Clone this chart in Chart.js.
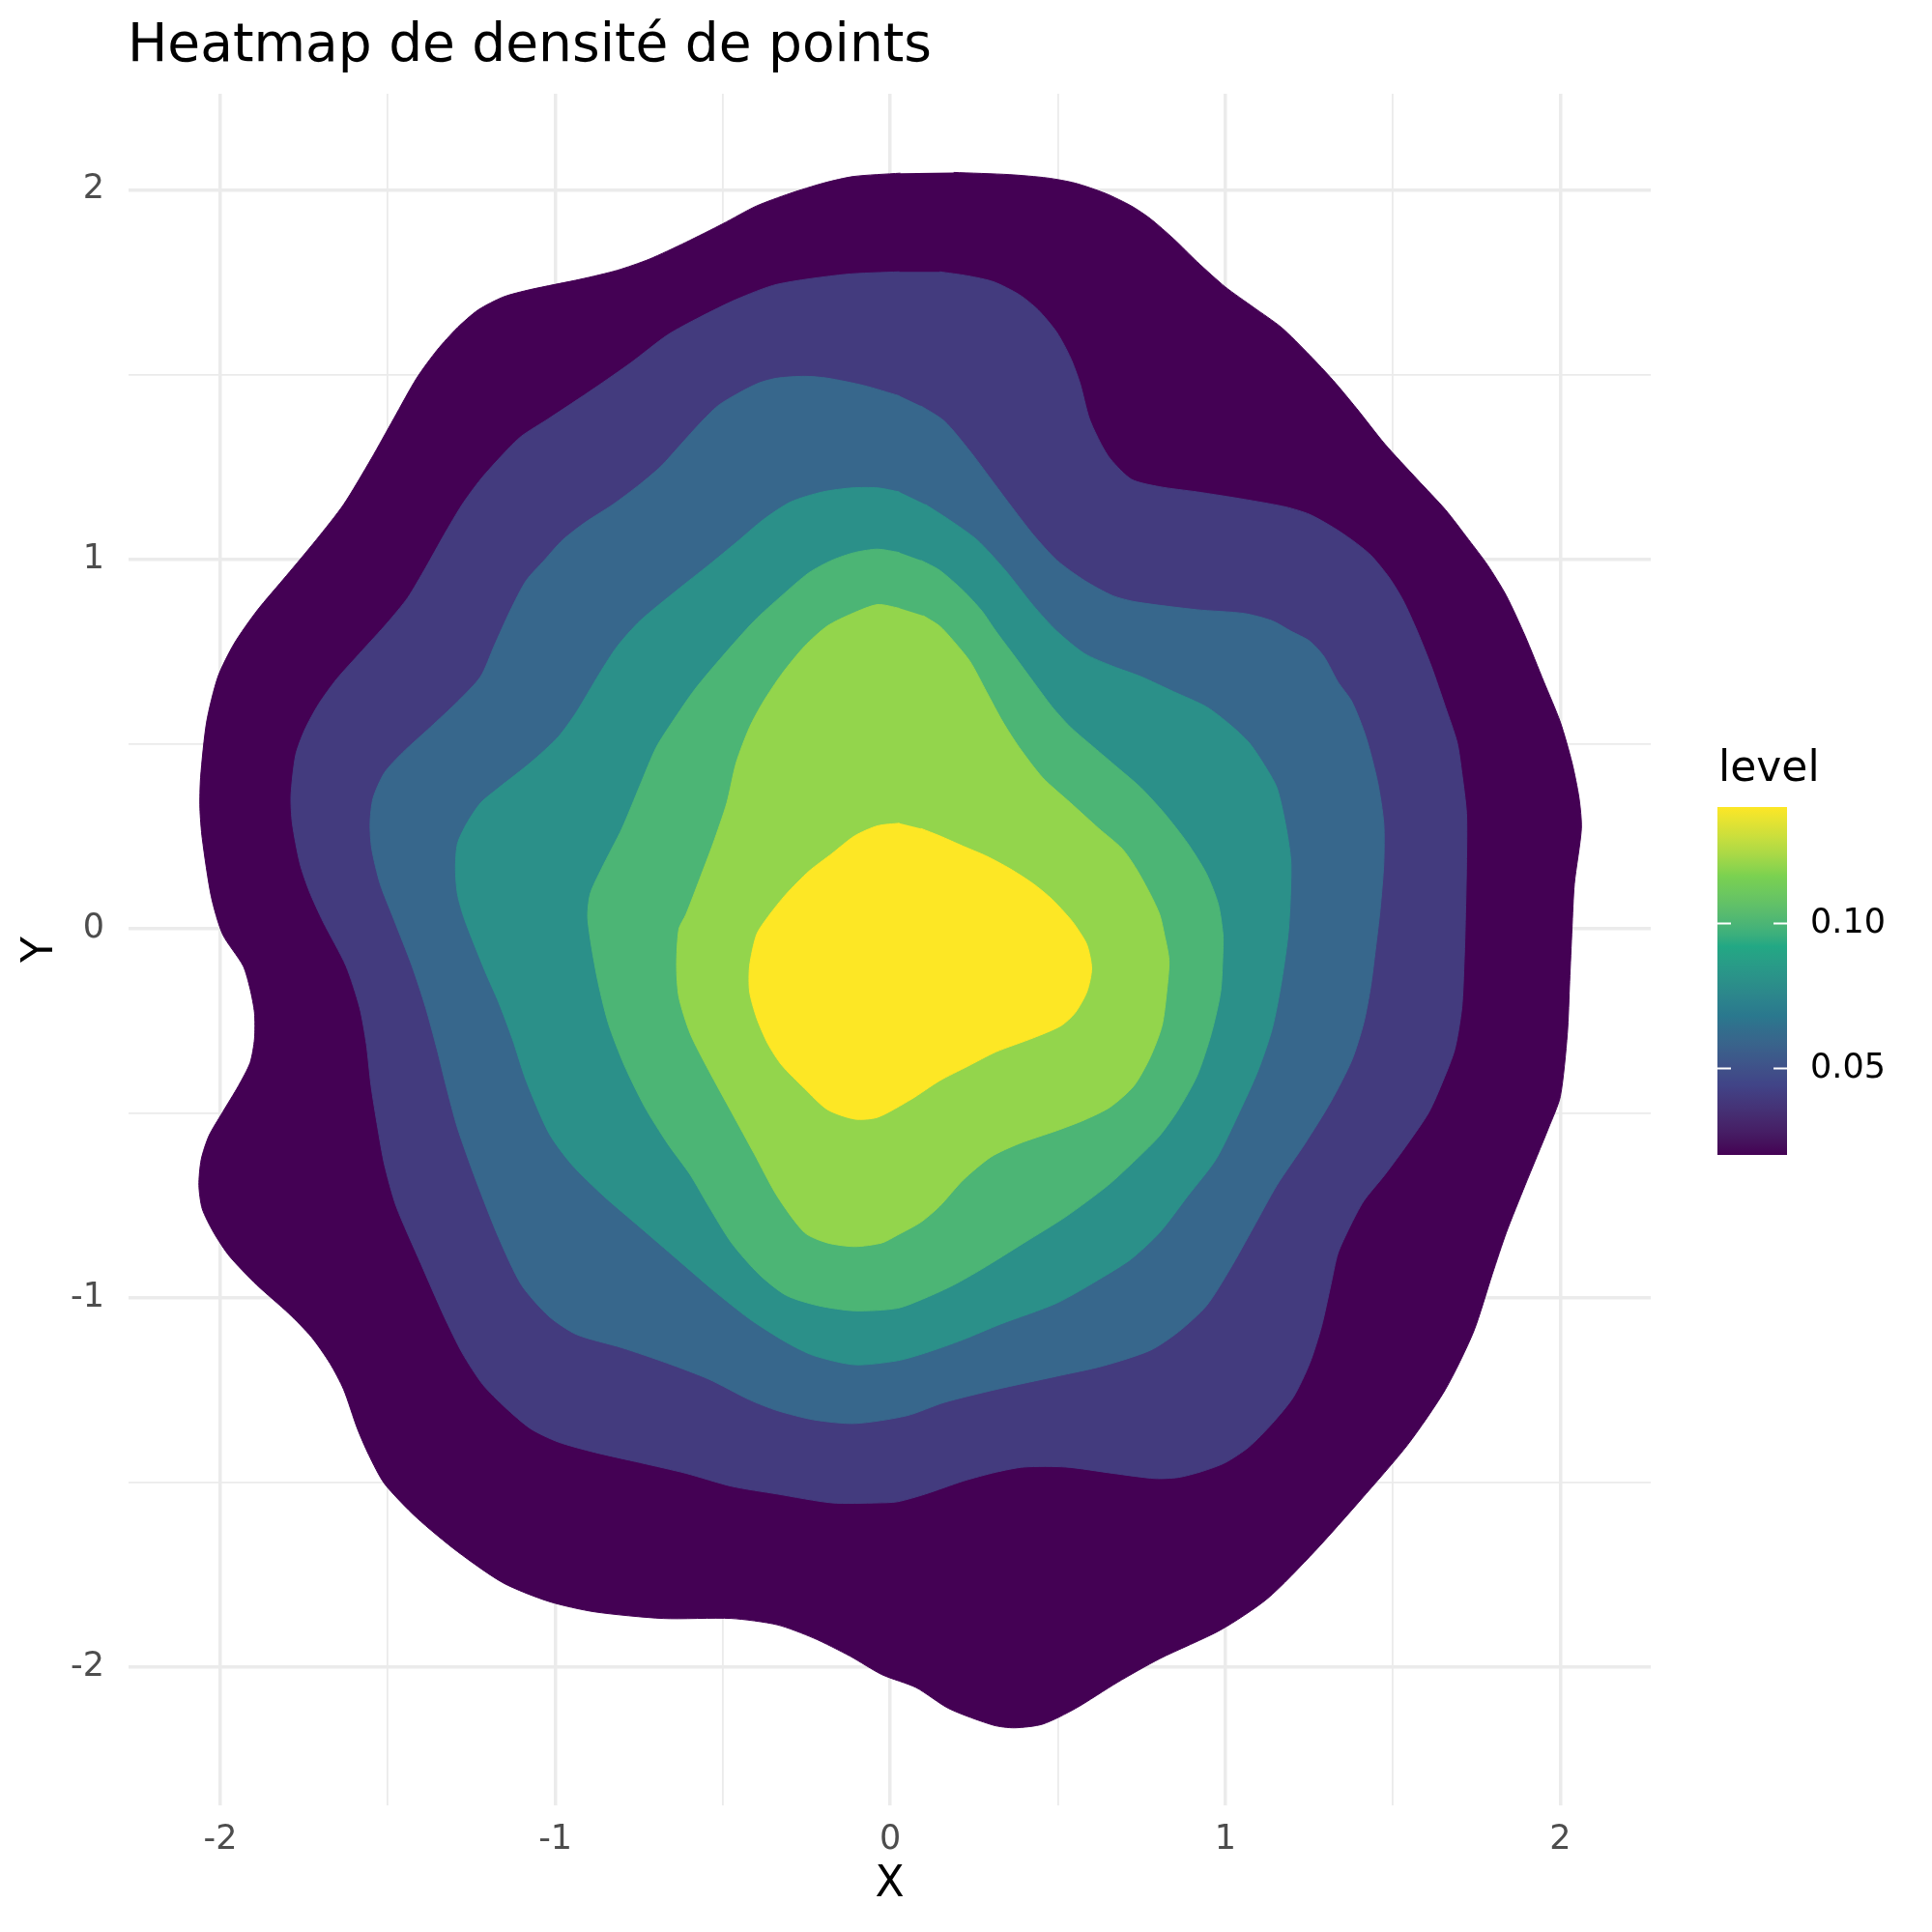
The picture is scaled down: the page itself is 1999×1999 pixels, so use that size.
<!DOCTYPE html>
<html>
<head>
<meta charset="utf-8">
<script src="https://cdn.jsdelivr.net/npm/chart.js@4.4.1/dist/chart.umd.min.js"></script>
<style>
html,body{margin:0;padding:0;background:#ffffff;}
#wrap{width:1999px;height:1999px;}
</style>
</head>
<body>
<div id="wrap"><canvas id="c" width="1999" height="1999"></canvas></div>
<script>
// ---------------- data ----------------
const chartTitle = 'Heatmap de densité de points';
const xAxisTitle = 'X';
const yAxisTitle = 'Y';
const legendTitle = 'level';
const xMajorTicks = [-2, -1, 0, 1, 2];
const xMinorTicks = [-1.5, -0.5, 0.5, 1.5];
const yMajorTicks = [-2, -1, 0, 1, 2];
const yMinorTicks = [-1.5, -0.5, 0.5, 1.5];
const xRange = [-2.274, 2.27];
const yRange = [-2.374, 2.26];
const levels = [0.02, 0.04, 0.06, 0.08, 0.10, 0.12, 0.14];
const levelRange = [0.02, 0.14];
const legendTicks = [0.05, 0.10];

// contour polygons [x, y] for each density level
const contour1 = [[0.03,2.045],[-0.11,2.036],[-0.2,2.018],[-0.3,1.99],[-0.4,1.956],[-0.5,1.908],[-0.61,1.858],[-0.72,1.812],[-0.815,1.782],[-0.924,1.758],[-1.074,1.73],[-1.155,1.71],[-1.23,1.675],[-1.292,1.627],[-1.353,1.566],[-1.414,1.49],[-1.482,1.381],[-1.55,1.271],[-1.632,1.148],[-1.714,1.052],[-1.802,0.956],[-1.891,0.86],[-1.959,0.771],[-2.007,0.682],[-2.041,0.559],[-2.059,0.408],[-2.061,0.326],[-2.054,0.244],[-2.027,0.086],[-1.993,-0.016],[-1.932,-0.101],[-1.911,-0.164],[-1.898,-0.228],[-1.898,-0.299],[-1.911,-0.363],[-1.946,-0.426],[-1.993,-0.497],[-2.034,-0.561],[-2.057,-0.625],[-2.064,-0.695],[-2.054,-0.759],[-2.02,-0.823],[-1.973,-0.887],[-1.891,-0.965],[-1.796,-1.042],[-1.728,-1.106],[-1.673,-1.177],[-1.632,-1.248],[-1.591,-1.354],[-1.557,-1.425],[-1.51,-1.503],[-1.414,-1.595],[-1.292,-1.687],[-1.155,-1.772],[-1.019,-1.822],[-0.883,-1.85],[-0.678,-1.868],[-0.474,-1.868],[-0.338,-1.885],[-0.229,-1.921],[-0.12,-1.97],[-0.025,-2.02],[0.077,-2.055],[0.175,-2.112],[0.308,-2.157],[0.371,-2.164],[0.455,-2.154],[0.552,-2.112],[0.678,-2.041],[0.804,-1.977],[0.986,-1.899],[1.126,-1.814],[1.266,-1.687],[1.406,-1.545],[1.545,-1.397],[1.657,-1.248],[1.741,-1.092],[1.797,-0.936],[1.839,-0.823],[1.895,-0.695],[1.965,-0.54],[2.0,-0.455],[2.021,-0.285],[2.028,-0.143],[2.035,-0.001],[2.042,0.121],[2.063,0.271],[2.056,0.353],[2.035,0.449],[2.0,0.559],[1.951,0.668],[1.895,0.792],[1.839,0.901],[1.783,0.984],[1.727,1.052],[1.657,1.134],[1.573,1.216],[1.476,1.312],[1.392,1.408],[1.322,1.484],[1.252,1.552],[1.168,1.627],[1.084,1.682],[1.0,1.737],[0.916,1.805],[0.846,1.867],[0.776,1.922],[0.72,1.956],[0.643,1.99],[0.552,2.018],[0.469,2.032],[0.357,2.041],[0.189,2.047]];
const contour2 = [[0.027,1.778],[-0.134,1.771],[-0.338,1.744],[-0.46,1.703],[-0.569,1.655],[-0.665,1.607],[-0.774,1.532],[-0.883,1.463],[-1.019,1.381],[-1.101,1.333],[-1.155,1.285],[-1.223,1.216],[-1.278,1.148],[-1.332,1.066],[-1.387,0.977],[-1.441,0.895],[-1.503,0.826],[-1.578,0.751],[-1.653,0.675],[-1.707,0.607],[-1.748,0.538],[-1.775,0.47],[-1.789,0.36],[-1.785,0.285],[-1.762,0.175],[-1.734,0.1],[-1.693,0.018],[-1.625,-0.101],[-1.584,-0.214],[-1.564,-0.313],[-1.55,-0.426],[-1.53,-0.54],[-1.51,-0.639],[-1.475,-0.752],[-1.401,-0.908],[-1.332,-1.05],[-1.278,-1.149],[-1.217,-1.234],[-1.149,-1.297],[-1.074,-1.354],[-0.992,-1.39],[-0.883,-1.418],[-0.747,-1.446],[-0.61,-1.475],[-0.474,-1.51],[-0.338,-1.531],[-0.174,-1.555],[-0.038,-1.555],[0.021,-1.552],[0.105,-1.531],[0.217,-1.496],[0.315,-1.472],[0.399,-1.458],[0.524,-1.458],[0.664,-1.475],[0.79,-1.489],[0.86,-1.486],[0.93,-1.47],[1.0,-1.446],[1.07,-1.404],[1.14,-1.34],[1.203,-1.269],[1.252,-1.177],[1.287,-1.078],[1.315,-0.965],[1.336,-0.88],[1.371,-0.809],[1.413,-0.738],[1.476,-0.667],[1.545,-0.582],[1.608,-0.497],[1.65,-0.412],[1.685,-0.327],[1.706,-0.214],[1.713,-0.086],[1.716,0.0],[1.72,0.175],[1.72,0.312],[1.706,0.422],[1.692,0.504],[1.657,0.6],[1.615,0.71],[1.573,0.805],[1.531,0.888],[1.49,0.949],[1.434,1.011],[1.378,1.052],[1.322,1.086],[1.252,1.121],[1.182,1.141],[1.056,1.162],[0.916,1.182],[0.804,1.196],[0.72,1.216],[0.657,1.271],[0.629,1.312],[0.594,1.381],[0.566,1.477],[0.538,1.545],[0.497,1.614],[0.441,1.675],[0.385,1.716],[0.308,1.751],[0.231,1.767],[0.147,1.778]];
const contour3 = [[0.027,1.442],[-0.079,1.47],[-0.188,1.49],[-0.256,1.495],[-0.338,1.49],[-0.392,1.477],[-0.454,1.449],[-0.515,1.415],[-0.569,1.367],[-0.624,1.312],[-0.685,1.251],[-0.747,1.203],[-0.828,1.148],[-0.91,1.1],[-0.978,1.052],[-1.033,0.997],[-1.087,0.942],[-1.135,0.86],[-1.183,0.764],[-1.223,0.682],[-1.292,0.614],[-1.373,0.545],[-1.455,0.477],[-1.51,0.422],[-1.544,0.353],[-1.553,0.285],[-1.548,0.216],[-1.523,0.121],[-1.482,0.025],[-1.428,-0.101],[-1.387,-0.214],[-1.353,-0.327],[-1.326,-0.426],[-1.292,-0.54],[-1.237,-0.681],[-1.169,-0.837],[-1.101,-0.965],[-1.019,-1.05],[-0.937,-1.099],[-0.801,-1.135],[-0.665,-1.177],[-0.542,-1.22],[-0.42,-1.276],[-0.338,-1.305],[-0.229,-1.33],[-0.106,-1.34],[0.049,-1.319],[0.161,-1.283],[0.315,-1.248],[0.497,-1.212],[0.636,-1.184],[0.776,-1.142],[0.86,-1.092],[0.944,-1.021],[1.014,-0.922],[1.084,-0.809],[1.154,-0.695],[1.238,-0.582],[1.315,-0.469],[1.378,-0.356],[1.413,-0.256],[1.434,-0.157],[1.448,-0.058],[1.462,0.05],[1.473,0.175],[1.473,0.285],[1.455,0.395],[1.42,0.518],[1.378,0.614],[1.336,0.668],[1.294,0.737],[1.252,0.778],[1.196,0.805],[1.14,0.833],[1.056,0.853],[0.916,0.863],[0.734,0.884],[0.664,0.901],[0.58,0.942],[0.497,0.997],[0.427,1.066],[0.357,1.148],[0.301,1.216],[0.238,1.292],[0.161,1.374],[0.091,1.415]];
const contour4 = [[0.027,1.182],[-0.038,1.193],[-0.113,1.193],[-0.202,1.182],[-0.297,1.155],[-0.379,1.107],[-0.46,1.045],[-0.542,0.984],[-0.638,0.915],[-0.747,0.833],[-0.815,0.764],[-0.869,0.689],[-0.937,0.586],[-0.992,0.518],[-1.074,0.449],[-1.169,0.381],[-1.223,0.34],[-1.264,0.285],[-1.292,0.23],[-1.298,0.162],[-1.292,0.093],[-1.271,0.025],[-1.21,-0.115],[-1.169,-0.2],[-1.128,-0.299],[-1.087,-0.412],[-1.019,-0.554],[-0.951,-0.639],[-0.856,-0.724],[-0.747,-0.809],[-0.638,-0.894],[-0.529,-0.979],[-0.42,-1.057],[-0.311,-1.12],[-0.229,-1.156],[-0.106,-1.181],[0.021,-1.17],[0.105,-1.149],[0.217,-1.113],[0.329,-1.071],[0.497,-1.014],[0.636,-0.943],[0.72,-0.894],[0.804,-0.823],[0.888,-0.724],[0.972,-0.625],[1.042,-0.497],[1.098,-0.384],[1.14,-0.271],[1.168,-0.143],[1.189,-0.001],[1.196,0.175],[1.182,0.271],[1.154,0.381],[1.112,0.449],[1.07,0.504],[1.014,0.552],[0.944,0.6],[0.846,0.641],[0.748,0.682],[0.664,0.71],[0.58,0.744],[0.497,0.805],[0.427,0.874],[0.343,0.97],[0.259,1.052],[0.175,1.107],[0.105,1.148]];
const contour5 = [[0.027,1.018],[-0.038,1.027],[-0.106,1.018],[-0.174,0.997],[-0.243,0.963],[-0.324,0.901],[-0.406,0.833],[-0.501,0.737],[-0.583,0.648],[-0.651,0.559],[-0.699,0.49],[-0.747,0.388],[-0.801,0.271],[-0.862,0.162],[-0.896,0.093],[-0.903,0.025],[-0.876,-0.129],[-0.842,-0.256],[-0.794,-0.37],[-0.733,-0.483],[-0.665,-0.582],[-0.597,-0.667],[-0.542,-0.752],[-0.474,-0.851],[-0.392,-0.936],[-0.311,-0.993],[-0.215,-1.021],[-0.106,-1.035],[0.021,-1.028],[0.105,-1.0],[0.189,-0.965],[0.273,-0.922],[0.399,-0.851],[0.524,-0.78],[0.65,-0.695],[0.734,-0.625],[0.804,-0.561],[0.86,-0.49],[0.916,-0.398],[0.958,-0.285],[0.986,-0.171],[0.993,-0.058],[0.993,-0.016],[0.979,0.066],[0.944,0.148],[0.888,0.23],[0.818,0.312],[0.748,0.381],[0.678,0.436],[0.608,0.49],[0.538,0.545],[0.483,0.6],[0.427,0.668],[0.371,0.737],[0.315,0.805],[0.273,0.86],[0.217,0.915],[0.147,0.97],[0.091,0.997]];
const contour6 = [[0.027,0.867],[-0.038,0.877],[-0.113,0.853],[-0.188,0.819],[-0.256,0.764],[-0.324,0.689],[-0.379,0.614],[-0.42,0.545],[-0.46,0.449],[-0.488,0.34],[-0.529,0.23],[-0.569,0.134],[-0.61,0.038],[-0.631,-0.001],[-0.638,-0.101],[-0.631,-0.186],[-0.597,-0.285],[-0.542,-0.384],[-0.474,-0.497],[-0.406,-0.61],[-0.338,-0.724],[-0.256,-0.823],[-0.188,-0.851],[-0.106,-0.861],[-0.025,-0.851],[0.021,-0.83],[0.091,-0.795],[0.147,-0.752],[0.217,-0.681],[0.301,-0.618],[0.385,-0.582],[0.497,-0.547],[0.58,-0.518],[0.657,-0.483],[0.727,-0.426],[0.776,-0.348],[0.811,-0.263],[0.825,-0.171],[0.832,-0.086],[0.818,-0.016],[0.804,0.038],[0.776,0.093],[0.734,0.162],[0.692,0.216],[0.622,0.271],[0.538,0.34],[0.455,0.408],[0.385,0.49],[0.336,0.559],[0.287,0.641],[0.238,0.723],[0.189,0.778],[0.147,0.819],[0.098,0.847]];
const contour7 = [[0.027,0.285],[-0.038,0.278],[-0.106,0.251],[-0.174,0.203],[-0.243,0.155],[-0.311,0.093],[-0.365,0.032],[-0.399,-0.016],[-0.42,-0.101],[-0.42,-0.171],[-0.399,-0.242],[-0.365,-0.313],[-0.324,-0.37],[-0.256,-0.433],[-0.188,-0.49],[-0.106,-0.516],[-0.038,-0.511],[0.063,-0.462],[0.147,-0.412],[0.231,-0.373],[0.315,-0.334],[0.427,-0.296],[0.51,-0.263],[0.552,-0.228],[0.587,-0.171],[0.601,-0.108],[0.587,-0.044],[0.559,-0.001],[0.538,0.025],[0.483,0.079],[0.427,0.121],[0.357,0.162],[0.287,0.196],[0.217,0.223],[0.147,0.251],[0.091,0.271]];

// ---------------- styling ----------------
const FONT = 'DejaVu Sans';
// viridis(6) stops, interpolated in CIE Lab space (like ggplot2's gradient_n_pal)
const paletteStops = ['#440154','#414487','#2A788E','#22A884','#7AD151','#FDE725'];

function hexToRgb(h){return [parseInt(h.slice(1,3),16),parseInt(h.slice(3,5),16),parseInt(h.slice(5,7),16)];}
function srgbToLin(c){c/=255;return c<=0.04045?c/12.92:Math.pow((c+0.055)/1.055,2.4);}
function linToSrgb(c){const v=c<=0.0031308?12.92*c:1.055*Math.pow(c,1/2.4)-0.055;return Math.max(0,Math.min(255,Math.round(v*255)));}
const WHITE=[0.95047,1.0,1.08883];
function fLab(t){return t>0.008856?Math.cbrt(t):(7.787*t+16/116);}
function fInv(t){return t>0.206893?t*t*t:(t-16/116)/7.787;}
function rgbToLab(rgb){
  const [r,g,b]=rgb.map(srgbToLin);
  const X=0.4124564*r+0.3575761*g+0.1804375*b;
  const Y=0.2126729*r+0.7151522*g+0.0721750*b;
  const Z=0.0193339*r+0.1191920*g+0.9503041*b;
  const fx=fLab(X/WHITE[0]),fy=fLab(Y/WHITE[1]),fz=fLab(Z/WHITE[2]);
  return [116*fy-16,500*(fx-fy),200*(fy-fz)];
}
function labToRgb(lab){
  const fy=(lab[0]+16)/116,fx=fy+lab[1]/500,fz=fy-lab[2]/200;
  const X=WHITE[0]*fInv(fx),Y=WHITE[1]*fInv(fy),Z=WHITE[2]*fInv(fz);
  const r=3.2404542*X-1.5371385*Y-0.4985314*Z;
  const g=-0.9692660*X+1.8760108*Y+0.0415560*Z;
  const b=0.0556434*X-0.2040259*Y+1.0572252*Z;
  return [linToSrgb(r),linToSrgb(g),linToSrgb(b)];
}
const paletteLab = paletteStops.map(h => rgbToLab(hexToRgb(h)));
function colourAt(t){
  t = Math.max(0, Math.min(1, t));
  const n = paletteLab.length - 1;
  const i = Math.min(n - 1, Math.floor(t * n));
  const f = t * n - i;
  const a = paletteLab[i], b = paletteLab[i + 1];
  const rgb = labToRgb(a.map((v, k) => v + (b[k] - v) * f));
  return 'rgb(' + rgb.join(',') + ')';
}
const levelNorm = v => (v - levelRange[0]) / (levelRange[1] - levelRange[0]);

const contours = [contour1, contour2, contour3, contour4, contour5, contour6, contour7];
const datasets = contours.map((pts, i) => {
  const col = colourAt(levelNorm(levels[i]));
  return {
    label: 'level ' + levels[i],
    data: pts.map(p => ({x: p[0], y: p[1]})),
    showLine: true,
    fill: 'shape',
    backgroundColor: col,
    borderColor: col,
    borderWidth: 1,
    pointRadius: 0,
    pointHoverRadius: 0,
    tension: 0.25,
    order: contours.length - i
  };
});

const xGrid = xMajorTicks.concat(xMinorTicks).sort((a, b) => a - b);
const yGrid = yMajorTicks.concat(yMinorTicks).sort((a, b) => a - b);

const titleLegendPlugin = {
  id: 'titleLegend',
  afterDraw(chart) {
    const ctx = chart.ctx;
    const area = chart.chartArea;
    ctx.save();
    // title
    ctx.fillStyle = '#000000';
    ctx.font = '55px "' + FONT + '"';
    ctx.textAlign = 'left';
    ctx.textBaseline = 'alphabetic';
    ctx.fillText(chartTitle, area.left - 1, 63);
    // legend (colour bar)
    const barL = area.right + 69, barW = 72, barTop = 835, barBot = 1195;
    ctx.font = '44px "' + FONT + '"';
    ctx.fillText(legendTitle, barL + 1, 808);
    const grad = ctx.createLinearGradient(0, barBot, 0, barTop);
    const nStops = 60;
    for (let k = 0; k <= nStops; k++) grad.addColorStop(k / nStops, colourAt(k / nStops));
    ctx.fillStyle = grad;
    ctx.fillRect(barL, barTop, barW, barBot - barTop);
    const vy = v => barBot - levelNorm(v) * (barBot - barTop);
    ctx.strokeStyle = '#ffffff';
    ctx.lineWidth = 2;
    ctx.font = '35px "' + FONT + '"';
    ctx.textBaseline = 'middle';
    legendTicks.forEach(v => {
      const y = Math.round(vy(v)) + 0.5;
      ctx.beginPath();
      ctx.moveTo(barL, y); ctx.lineTo(barL + 14, y);
      ctx.moveTo(barL + barW - 14, y); ctx.lineTo(barL + barW, y);
      ctx.stroke();
      ctx.fillStyle = '#000000';
      ctx.fillText(v.toFixed(2), barL + 96, y);
    });
    ctx.restore();
  }
};

const gridWidth = majors => (c) => (c.tick && majors.includes(c.tick.value)) ? 3.5 : 1.8;

new Chart(document.getElementById('c'), {
  type: 'scatter',
  data: {datasets},
  options: {
    responsive: false,
    devicePixelRatio: 1,
    animation: false,
    layout: {padding: {top: 97, right: 291, left: 0, bottom: 0}},
    plugins: {
      legend: {display: false},
      title: {display: false},
      tooltip: {enabled: false}
    },
    scales: {
      x: {
        type: 'linear',
        position: 'bottom',
        min: xRange[0],
        max: xRange[1],
        afterBuildTicks: s => { s.ticks = xGrid.map(v => ({value: v})); },
        afterFit: s => { s.height = 131; },
        ticks: {
          autoSkip: false, maxRotation: 0, padding: 15,
          color: '#4D4D4D', font: {family: FONT, size: 35},
          callback: v => xMajorTicks.includes(v) ? String(v) : ''
        },
        grid: {color: '#EBEBEB', lineWidth: gridWidth(xMajorTicks), drawTicks: false},
        border: {display: false},
        title: {display: true, text: xAxisTitle, color: '#000000', font: {family: FONT, size: 44}, padding: {top: 0, bottom: 22}}
      },
      y: {
        type: 'linear',
        position: 'left',
        min: yRange[0],
        max: yRange[1],
        afterBuildTicks: s => { s.ticks = yGrid.map(v => ({value: v})); },
        afterFit: s => { s.width = 133; },
        ticks: {
          autoSkip: false, padding: 25,
          color: '#4D4D4D', font: {family: FONT, size: 35},
          callback: v => yMajorTicks.includes(v) ? String(v) : ''
        },
        grid: {color: '#EBEBEB', lineWidth: gridWidth(yMajorTicks), drawTicks: false},
        border: {display: false},
        title: {display: true, text: yAxisTitle, color: '#000000', font: {family: FONT, size: 44}, padding: {top: 16, bottom: 0}}
      }
    }
  },
  plugins: [titleLegendPlugin]
});
</script>
</body>
</html>
